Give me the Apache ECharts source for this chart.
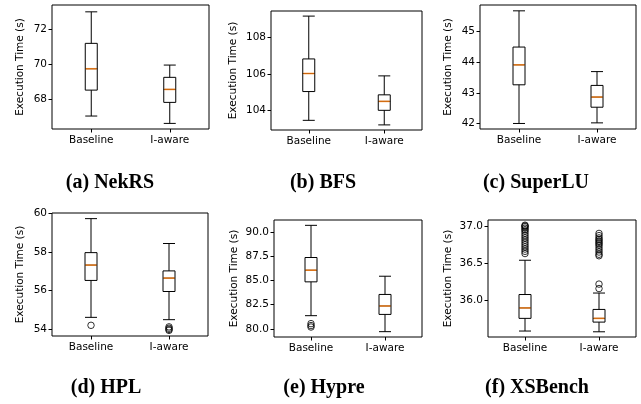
<!DOCTYPE html>
<html>
<head>
<meta charset="utf-8">
<script src="https://cdn.jsdelivr.net/npm/echarts@6/dist/echarts.min.js"></script>
<style>
  html, body { margin: 0; padding: 0; background: #fff; }
  #main { width: 641px; height: 404px; }
</style>
</head>
<body>
<div id="main"></div>
<script>
// data
var categories = ['Baseline', 'I-aware'];
var titles = ['(a) NekRS', '(b) BFS', '(c) SuperLU', '(d) HPL', '(e) Hypre', '(f) XSBench'];

// [min, Q1, median, Q3, max] per category
var nekrsBox = [[67.05, 68.53, 69.75, 71.2, 73.0], [66.63, 67.83, 68.57, 69.26, 69.96]];
var bfsBox = [[103.45, 105.03, 106.02, 106.82, 109.17], [103.2, 104.0, 104.49, 104.85, 105.89]];
var superluBox = [[42.0, 43.26, 43.91, 44.49, 45.67], [42.02, 42.53, 42.86, 43.24, 43.69]];
var hplBox = [[54.63, 56.53, 57.32, 57.96, 59.71], [54.51, 55.96, 56.65, 57.02, 58.43]];
var hypreBox = [[81.37, 84.86, 86.06, 87.37, 90.69], [79.72, 81.5, 82.37, 83.56, 85.44]];
var xsbenchBox = [[35.59, 35.76, 35.9, 36.08, 36.54], [35.58, 35.71, 35.76, 35.88, 36.1]];

// outliers [baseline list, i-aware list]
var nekrsOut = [[], []];
var bfsOut = [[], []];
var superluOut = [[], []];
var hplOut = [[54.22], [54.14, 54.07, 54.01, 53.96]];
var hypreOut = [[80.55, 80.35, 80.2], []];
var xsbenchOut = [
    [36.63, 36.66, 36.69, 36.72, 36.75, 36.78, 36.81, 36.84, 36.87, 36.9, 36.93, 36.95, 36.97, 36.99, 37.0, 37.01],
    [36.9, 36.87, 36.84, 36.82, 36.8, 36.78, 36.76, 36.74, 36.71, 36.68, 36.65, 36.62, 36.6, 36.22, 36.16]
];

// y tick labels
var nekrsTicks = [68, 70, 72];
var bfsTicks = [104, 106, 108];
var superluTicks = [42, 43, 44, 45];
var hplTicks = [54, 56, 58, 60];
var hypreTicks = [80, 82.5, 85, 87.5, 90];
var xsbenchTicks = [36, 36.5, 37];

// y limits
var nekrsRange = [66.31, 73.39];
var bfsRange = [102.92, 109.45];
var superluRange = [41.82, 45.86];
var hplRange = [53.67, 60.0];
var hypreRange = [79.17, 91.24];
var xsbenchRange = [35.51, 37.08];

var panels = [
    { box: nekrsBox, out: nekrsOut, ticks: nekrsTicks, range: nekrsRange, dec: 0 },
    { box: bfsBox, out: bfsOut, ticks: bfsTicks, range: bfsRange, dec: 0 },
    { box: superluBox, out: superluOut, ticks: superluTicks, range: superluRange, dec: 0 },
    { box: hplBox, out: hplOut, ticks: hplTicks, range: hplRange, dec: 0 },
    { box: hypreBox, out: hypreOut, ticks: hypreTicks, range: hypreRange, dec: 1 },
    { box: xsbenchBox, out: xsbenchOut, ticks: xsbenchTicks, range: xsbenchRange, dec: 1 }
];

// layout of each plot frame
var frames = [
    { left: 52, top: 5, width: 157, height: 124, gap: 26 },
    { left: 271, top: 11, width: 151, height: 119, gap: 32 },
    { left: 480, top: 5, width: 156, height: 124, gap: 26 },
    { left: 52, top: 213, width: 156, height: 123, gap: 26 },
    { left: 274, top: 220, width: 148, height: 117, gap: 34 },
    { left: 488, top: 220, width: 148, height: 117, gap: 34 }
];
var titlePos = [[110, 173], [323, 173], [536, 173], [106, 378], [324, 378], [537, 378]];

var tickFont = { fontFamily: 'DejaVu Sans', fontSize: 10.5, color: '#000' };

var myChart = echarts.init(document.getElementById('main'), null, { renderer: 'canvas' });

var grid = [], xAxis = [], yAxis = [], series = [], title = [];

panels.forEach(function (p, i) {
    var f = frames[i];
    grid.push({
        left: f.left, top: f.top, width: f.width, height: f.height,
        show: true, borderColor: '#000', borderWidth: 1, backgroundColor: 'transparent'
    });
    xAxis.push({
        type: 'category', gridIndex: i, data: categories, boundaryGap: true,
        axisLine: { show: false },
        axisTick: { show: true, alignWithLabel: true, length: 3.5, lineStyle: { color: '#000' } },
        axisLabel: Object.assign({ margin: 6 }, tickFont),
        splitLine: { show: false }
    });
    yAxis.push({
        type: 'value', gridIndex: i, min: p.range[0], max: p.range[1],
        name: 'Execution Time (s)', nameLocation: 'middle', nameGap: f.gap, nameRotate: 90,
        nameTextStyle: { fontFamily: 'DejaVu Sans', fontSize: 10.5, color: '#000' },
        axisLine: { show: false },
        axisTick: { show: true, length: 3.5, customValues: p.ticks, lineStyle: { color: '#000' } },
        axisLabel: Object.assign({
            margin: 5, customValues: p.ticks,
            formatter: (function (d) { return function (v) { return v.toFixed(d); }; })(p.dec)
        }, tickFont),
        splitLine: { show: false }
    });
    series.push({
        type: 'boxplot', xAxisIndex: i, yAxisIndex: i,
        data: p.box, boxWidth: [12, 12],
        itemStyle: { color: 'transparent', borderColor: '#000', borderWidth: 1 },
        emphasis: { disabled: true }
    });
    // median line in orange
    series.push({
        type: 'scatter', xAxisIndex: i, yAxisIndex: i,
        symbol: 'rect', symbolSize: [11, 1.6],
        data: p.box.map(function (b, k) { return [k, b[2]]; }),
        itemStyle: { color: '#ff7f0e' },
        z: 5
    });
    var outData = [];
    p.out.forEach(function (list, k) {
        list.forEach(function (v) { outData.push([k, v]); });
    });
    series.push({
        type: 'scatter', xAxisIndex: i, yAxisIndex: i,
        symbol: 'circle', symbolSize: 6.5,
        data: outData,
        itemStyle: { color: 'transparent', borderColor: '#000', borderWidth: 1 }
    });
    title.push({
        text: titles[i], left: titlePos[i][0], top: titlePos[i][1], textAlign: 'center', padding: 0,
        textStyle: { fontFamily: 'Liberation Serif', fontWeight: 'bold', fontSize: 20, color: '#000' }
    });
});

var option = {
    animation: false,
    backgroundColor: '#fff',
    title: title,
    grid: grid,
    xAxis: xAxis,
    yAxis: yAxis,
    series: series
};

myChart.setOption(option);
window.addEventListener('resize', function () {
    myChart.resize();
});
</script>
</body>
</html>
